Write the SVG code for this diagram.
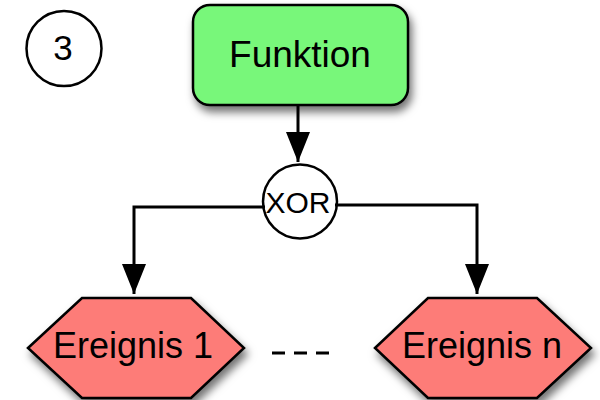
<svg xmlns="http://www.w3.org/2000/svg" width="600" height="400" viewBox="0 0 600 400">
<defs>
<filter id="sh" x="-20%" y="-20%" width="150%" height="160%">
<feDropShadow dx="3" dy="6" stdDeviation="4" flood-color="#000" flood-opacity="0.55"/>
</filter>
<marker id="ah" viewBox="0 0 30 24" refX="30" refY="12" markerWidth="30" markerHeight="24" markerUnits="userSpaceOnUse" orient="auto">
<path d="M0,0 L30,12 L0,24 Z" fill="#000"/>
</marker>
<style>
text{font-family:"Liberation Sans",Arial,sans-serif;fill:#000;text-anchor:middle}
.fn{fill:#78F77A;stroke:#000;stroke-width:2.5}
.ev{fill:#FD7B78;stroke:#000;stroke-width:2.5}
.ci{fill:#fff;stroke:#000;stroke-width:2.5}
.ln{fill:none;stroke:#000;stroke-width:3}
</style>
</defs>
<g id="label3">
<circle class="ci" cx="64" cy="48.5" r="37.5"/>
<text x="63" y="60" font-size="35">3</text>
</g>
<g id="funktion">
<rect class="fn" x="193" y="5" width="215" height="100" rx="17" filter="url(#sh)"/>
<text x="300" y="67" font-size="37">Funktion</text>
</g>
<g id="ereignis1">
<polygon class="ev" points="28,348 82,298 191,298 244,348 191,398 82,398" filter="url(#sh)"/>
<text x="133" y="358" font-size="36">Ereignis 1</text>
</g>
<g id="ereignisn">
<polygon class="ev" points="375,348 428,298 537,298 591,348 537,398 428,398" filter="url(#sh)"/>
<text x="482" y="358" font-size="36">Ereignis n</text>
</g>
<g id="connectors">
<line class="ln" x1="298" y1="105" x2="298" y2="162" marker-end="url(#ah)"/>
<polyline class="ln" points="265,207 134,207 134,294" marker-end="url(#ah)"/>
<polyline class="ln" points="335,205 477,205 477,294" marker-end="url(#ah)"/>
<line class="ln" x1="272" y1="353" x2="329" y2="353" stroke-dasharray="13,9"/>
</g>
<g id="xor">
<circle class="ci" cx="300" cy="201.5" r="37" fill="none" style="fill:none"/>
<text x="298" y="213" font-size="30">XOR</text>
</g>
</svg>
